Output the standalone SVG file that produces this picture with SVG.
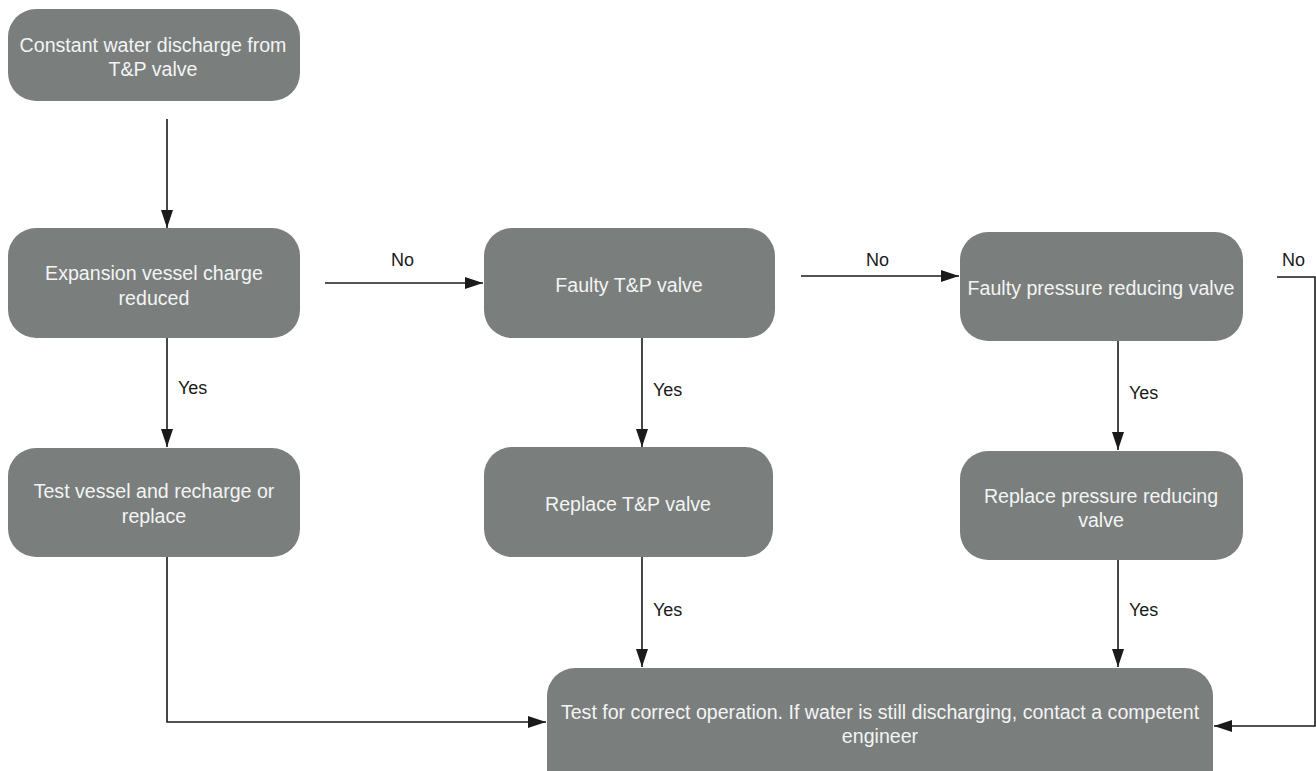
<svg xmlns="http://www.w3.org/2000/svg" width="1316" height="771" viewBox="0 0 1316 771">
<style>
.box{fill:#7a7f7e;}
.t{font-family:"Liberation Sans",Arial,sans-serif;font-size:19.6px;fill:#f4f4f4;text-anchor:middle;}
.lbl{font-family:"Liberation Sans",Arial,sans-serif;font-size:18px;fill:#1a1a1a;}
.c{fill:none;stroke:#1a1a1a;stroke-width:1.6;}
</style>
<defs>
<marker id="ah" markerUnits="userSpaceOnUse" markerWidth="18" markerHeight="12" refX="18" refY="6" orient="auto">
<path d="M0,0 L18,6 L0,12 z" fill="#1a1a1a"/>
</marker>
</defs>
<rect width="1316" height="771" fill="#ffffff"/>
<g id="connectors">
<path class="c" d="M167,119 V228" marker-end="url(#ah)"/>
<path class="c" d="M167,338 V447" marker-end="url(#ah)"/>
<path class="c" d="M325,283 H483" marker-end="url(#ah)"/>
<path class="c" d="M642,338 V447" marker-end="url(#ah)"/>
<path class="c" d="M801,276 H959" marker-end="url(#ah)"/>
<path class="c" d="M1118,341 V450" marker-end="url(#ah)"/>
<path class="c" d="M642,557 V667" marker-end="url(#ah)"/>
<path class="c" d="M1118,560 V667" marker-end="url(#ah)"/>
<path class="c" d="M167,557 V722 H546" marker-end="url(#ah)"/>
<path class="c" d="M1277,277 H1315 V726 H1214" marker-end="url(#ah)"/>
<text class="lbl" x="391" y="266">No</text>
<text class="lbl" x="866" y="266">No</text>
<text class="lbl" x="1282" y="266">No</text>
<text class="lbl" x="178" y="394">Yes</text>
<text class="lbl" x="653" y="396">Yes</text>
<text class="lbl" x="1129" y="399">Yes</text>
<text class="lbl" x="653" y="616">Yes</text>
<text class="lbl" x="1129" y="616">Yes</text>
</g>
<g id="n1">
<rect class="box" x="8" y="9" width="292" height="92" rx="28"/>
<text class="t" x="153" y="52">Constant water discharge from</text>
<text class="t" x="153" y="76">T&amp;P valve</text>
</g>
<g id="n2">
<rect class="box" x="8" y="228" width="292" height="110" rx="28"/>
<text class="t" x="154" y="280">Expansion vessel charge</text>
<text class="t" x="154" y="305">reduced</text>
</g>
<g id="n3">
<rect class="box" x="8" y="448" width="292" height="109" rx="28"/>
<text class="t" x="154" y="498">Test vessel and recharge or</text>
<text class="t" x="154" y="523">replace</text>
</g>
<g id="n4">
<rect class="box" x="484" y="228" width="291" height="110" rx="28"/>
<text class="t" x="629" y="292">Faulty T&amp;P valve</text>
</g>
<g id="n5">
<rect class="box" x="484" y="447" width="289" height="110" rx="28"/>
<text class="t" x="628" y="511">Replace T&amp;P valve</text>
</g>
<g id="n6">
<rect class="box" x="960" y="232" width="283" height="109" rx="28"/>
<text class="t" x="1101" y="295">Faulty pressure reducing valve</text>
</g>
<g id="n7">
<rect class="box" x="960" y="451" width="283" height="109" rx="28"/>
<text class="t" x="1101" y="503">Replace pressure reducing</text>
<text class="t" x="1101" y="527">valve</text>
</g>
<g id="n8">
<rect class="box" x="547" y="668" width="666" height="130" rx="28"/>
<text class="t" x="880" y="719">Test for correct operation. If water is still discharging, contact a competent</text>
<text class="t" x="880" y="743">engineer</text>
</g>
</svg>
